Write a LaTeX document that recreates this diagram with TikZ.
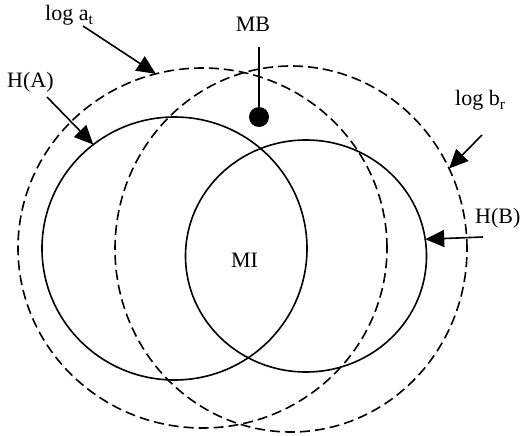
\documentclass[tikz,border=0pt]{standalone}
\usepackage{fontspec}
\setmainfont{Liberation Serif}
\usetikzlibrary{shapes.geometric,arrows.meta}
\begin{document}
\begin{tikzpicture}[x=1pt,y=-1pt,
  solidring/.style={draw, ellipse, line width=1.6pt, inner sep=0pt, outer sep=0pt},
  dashring/.style={solidring, dash pattern=on 10pt off 5pt},
  lbl/.style={font=\fontsize{22}{26}\selectfont, inner sep=0pt},
  pointer/.style={line width=1.6pt, -{Triangle[length=19pt,width=17pt]}},
]
\useasboundingbox (0,0) rectangle (523,436);

% the two dashed rings
\node[dashring, minimum width=369pt, minimum height=360pt] (at) at (202.5,248) {};
\node[dashring, minimum width=352pt, minimum height=366pt] (br) at (291,249) {};

% the two entropy circles
\node[solidring, minimum width=265pt, minimum height=263pt] (ha) at (174.5,248.5) {};
\node[solidring, minimum width=241pt, minimum height=232pt] (hb) at (306,256) {};

% labels
\node[lbl, anchor=base west] (lat) at (45,21) {log a\textsubscript{t}};
\node[lbl, anchor=base west] (lha) at (7,88) {H(A)};
\node[lbl, anchor=base] (lmb) at (253,32) {MB};
\node[lbl, anchor=base west] (lbr) at (455,106) {log b\textsubscript{r}};
\node[lbl, anchor=base west] (lhb) at (475,223) {H(B)};
\node[lbl, anchor=base] (mi) at (244.5,267) {MI};

% pointer tails
\coordinate (latTail) at (83,26);
\coordinate (lhaTail) at (47,97);
\coordinate (lbrTail) at (482,135);
\coordinate (lhbTail) at (483,237);
\coordinate (mbTop) at (259,47);

% pointers
\draw[pointer] (latTail) -- (at.105.7);
\draw[pointer] (lhaTail) -- (ha.128);
\draw[pointer] (lbrTail) -- (br.27);
\draw[pointer] (lhbTail) -- (hb.8.9);

% MB marker
\node[circle, fill, minimum size=20pt, inner sep=0pt] (mbdot) at (259,117) {};
\draw[line width=1.6pt] (mbTop) -- (mbdot);
\end{tikzpicture}
\end{document}
